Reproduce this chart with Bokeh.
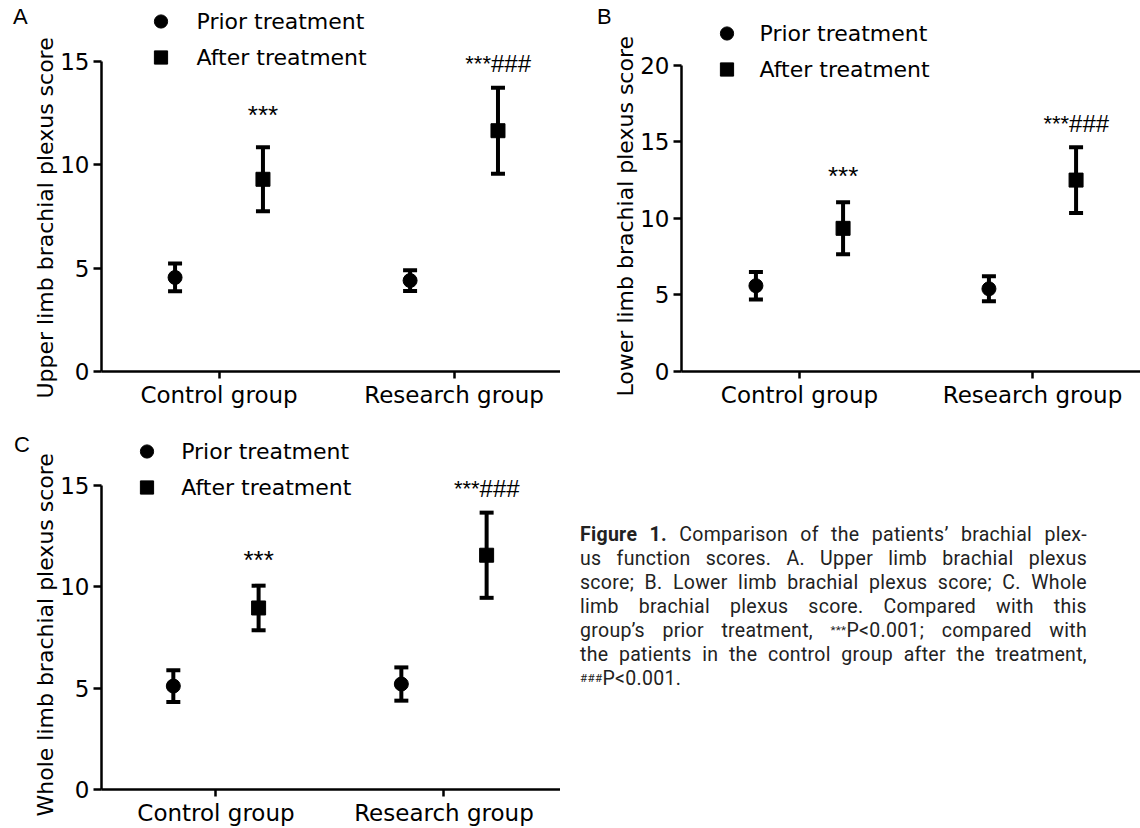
import math
from bokeh.plotting import figure
from bokeh.models import (ColumnDataSource, Whisker, TeeHead, Legend, LegendItem,
                          FixedTicker, Div, Range1d)
from bokeh.layouts import row, column
from bokeh.embed import file_html
from bokeh.resources import INLINE
from bokeh.core.properties import value

# ---------------- data ----------------
groups = ["Control group", "Research group"]
group_pos = [1, 2]
series_labels = ["Prior treatment", "After treatment"]

upper_prior_mean = [4.55, 4.40]
upper_prior_sd = [0.67, 0.50]
upper_after_mean = [9.30, 11.65]
upper_after_sd = [1.55, 2.08]

lower_prior_mean = [5.60, 5.40]
lower_prior_sd = [0.90, 0.82]
lower_after_mean = [9.35, 12.50]
lower_after_sd = [1.70, 2.15]

whole_prior_mean = [5.10, 5.20]
whole_prior_sd = [0.78, 0.82]
whole_after_mean = [8.95, 11.55]
whole_after_sd = [1.10, 2.10]

star_marks = ["***", "***"]
hash_marks = ["", "###"]

y_ticks_15 = [0, 5, 10, 15]
y_ticks_20 = [0, 5, 10, 15, 20]

y_titles = ["Upper limb brachial plexus score",
            "Lower limb brachial plexus score",
            "Whole limb brachial plexus score"]
panel_letters = ["A", "B", "C"]

AXIS_FONT = "DejaVu Sans"
ANN_FONT = "Liberation Sans"
DODGE = 0.187


def panel(ytitle, prior_m, prior_s, after_m, after_s, yticks, g):
    p = figure(width=g["W"], height=g["H"], output_backend="svg", toolbar_location=None,
               x_range=Range1d(g["x0"], g["x1"]), y_range=Range1d(0, g["ytop"]),
               min_border_left=g["ml"], min_border_right=0, min_border_top=0,
               min_border_bottom=g["mb"], title=ytitle, title_location="left")
    p.outline_line_color = None
    p.grid.visible = False
    p.background_fill_color = "white"
    p.border_fill_color = "white"

    # y-axis title drawn as the plot title, placed on the left and shifted along the axis
    p.title.align = "left"
    p.title.vertical_align = "bottom"
    p.title.offset = g["toff"]
    p.title.standoff = 0
    p.title.text_font = AXIS_FONT
    p.title.text_font_size = "22px"
    p.title.text_font_style = "normal"
    p.title.text_color = "black"

    p.xaxis.ticker = FixedTicker(ticks=group_pos)
    p.xaxis.major_label_overrides = {pos: name for pos, name in zip(group_pos, groups)}
    p.yaxis.ticker = FixedTicker(ticks=yticks)
    p.yaxis.bounds = (yticks[0], yticks[-1])
    for ax in (p.xaxis, p.yaxis):
        ax.axis_line_width = 2.5
        ax.axis_line_color = "black"
        ax.major_tick_line_width = 2.5
        ax.major_tick_line_color = "black"
        ax.minor_tick_line_color = None
        ax.major_tick_in = 0
        ax.major_label_text_font = AXIS_FONT
        ax.major_label_text_font_size = "23px"
        ax.major_label_text_color = "black"
    p.xaxis.major_tick_out = 7
    p.yaxis.major_tick_out = 8
    p.xaxis.major_label_standoff = 3
    p.yaxis.major_label_standoff = 4

    xp = [x - DODGE for x in group_pos]
    xa = [x + DODGE for x in group_pos]
    src_p = ColumnDataSource(dict(x=xp, m=prior_m,
                                  lo=[m - s for m, s in zip(prior_m, prior_s)],
                                  hi=[m + s for m, s in zip(prior_m, prior_s)]))
    src_a = ColumnDataSource(dict(x=xa, m=after_m,
                                  lo=[m - s for m, s in zip(after_m, after_s)],
                                  hi=[m + s for m, s in zip(after_m, after_s)]))
    for src in (src_p, src_a):
        w = Whisker(base="x", upper="hi", lower="lo", source=src, dimension="height",
                    line_width=4, line_color="black",
                    upper_head=TeeHead(size=14, line_width=4, line_color="black"),
                    lower_head=TeeHead(size=14, line_width=4, line_color="black"))
        p.add_layout(w)
    r1 = p.scatter("x", "m", source=src_p, marker="circle", size=14, color="black")
    r2 = p.scatter("x", "m", source=src_a, marker="square", size=14, color="black")

    # significance marks above the "after" bars
    hi_a = [m + s for m, s in zip(after_m, after_s)]
    for i in range(len(groups)):
        if hash_marks[i]:
            p.text(x=[xa[i]], y=[hi_a[i]], text=[star_marks[i]], text_font=value(ANN_FONT),
                   text_font_size="22px", text_align="right", text_baseline="alphabetic",
                   x_offset=-7, y_offset=g["hoff"], text_color="black")
            p.text(x=[xa[i]], y=[hi_a[i]], text=[hash_marks[i]], text_font=value(ANN_FONT),
                   text_font_size="24px", text_align="left", text_baseline="alphabetic",
                   x_offset=-7, y_offset=g["hoff"], text_color="black")
        else:
            p.text(x=[xa[i]], y=[hi_a[i]], text=[star_marks[i]], text_font=value(ANN_FONT),
                   text_font_size="26px", text_align="center", text_baseline="alphabetic",
                   y_offset=g["soff"], text_color="black")

    leg = Legend(items=[LegendItem(label=series_labels[0], renderers=[r1]),
                        LegendItem(label=series_labels[1], renderers=[r2])],
                 location=g["leg"], orientation="vertical",
                 glyph_width=33, glyph_height=36, label_height=36,
                 label_standoff=g["lst"], spacing=0, padding=0, margin=0,
                 border_line_color=None, background_fill_alpha=0,
                 label_text_font=AXIS_FONT, label_text_font_size="22px",
                 label_text_color="black")
    p.add_layout(leg)
    return p


def letter_div(letter, width, height, pad_left, pad_top):
    html = ('<div style="box-sizing:border-box;padding:%dpx 0 0 %dpx;'
            'font-family:Liberation Sans, Arial, sans-serif;'
            'font-size:22px;line-height:24px;color:#000;">%s</div>' % (pad_top, pad_left, letter))
    return Div(text=html, width=width, height=height, margin=(0, 0, 0, 0))


gA = dict(W=530, H=416, ml=69, mb=45, x0=0.5, x1=2.453, ytop=17.95,
          leg=(42.5, 296), lst=20, soff=-32, hoff=-24, toff=-27)
gB = dict(W=530, H=416, ml=71, mb=44, x0=0.4936, x1=2.4635, ytop=24.23,
          leg=(28.5, 284), lst=17, soff=-26, hoff=-24, toff=-25)
gC = dict(W=530, H=412, ml=69, mb=38, x0=0.498, x1=2.511, ytop=18.39,
          leg=(29.2, 284), lst=18, soff=-26, hoff=-24, toff=-27)

pA = panel(y_titles[0], upper_prior_mean, upper_prior_sd, upper_after_mean, upper_after_sd, y_ticks_15, gA)
pB = panel(y_titles[1], lower_prior_mean, lower_prior_sd, lower_after_mean, lower_after_sd, y_ticks_20, gB)
pC = panel(y_titles[2], whole_prior_mean, whole_prior_sd, whole_after_mean, whole_after_sd, y_ticks_15, gC)

dA = letter_div(panel_letters[0], 30, 416, 13, 5)
dB = letter_div(panel_letters[1], 50, 416, 37, 5)
dC = letter_div(panel_letters[2], 30, 412, 14, 17)

caption_lines = [
    "<b>Figure 1.</b> Comparison of the patients\u2019 brachial plex-",
    "us function scores. A. Upper limb brachial plexus",
    "score; B. Lower limb brachial plexus score; C. Whole",
    "limb brachial plexus score. Compared with this",
    "group\u2019s prior treatment, <sup>***</sup>P&lt;0.001; compared with",
    "the patients in the control group after the treatment,",
    "<sup>###</sup>P&lt;0.001.",
]
sup_css = "<style>sup{font-size:0.6em;vertical-align:top;position:relative;top:-1px;}</style>"
body = "".join(
    '<div style="text-align:justify;text-align-last:justify;white-space:nowrap;">%s</div>' % ln
    for ln in caption_lines[:-1]
) + '<div style="text-align:left;white-space:nowrap;">%s</div>' % caption_lines[-1]
html = (sup_css + '<div style="box-sizing:border-box;padding:107px 0 0 20px;width:527px;'
        'font-family:Roboto;font-size:19.5px;letter-spacing:0.3px;line-height:24px;'
        'color:#222;">' + body + '</div>')
cap = Div(text=html, width=580, height=412, margin=(0, 0, 0, 0))

layout = column(row(dA, pA, dB, pB, spacing=0), row(dC, pC, cap, spacing=0), spacing=0)
open("out.html", "w").write(file_html(layout, INLINE))
